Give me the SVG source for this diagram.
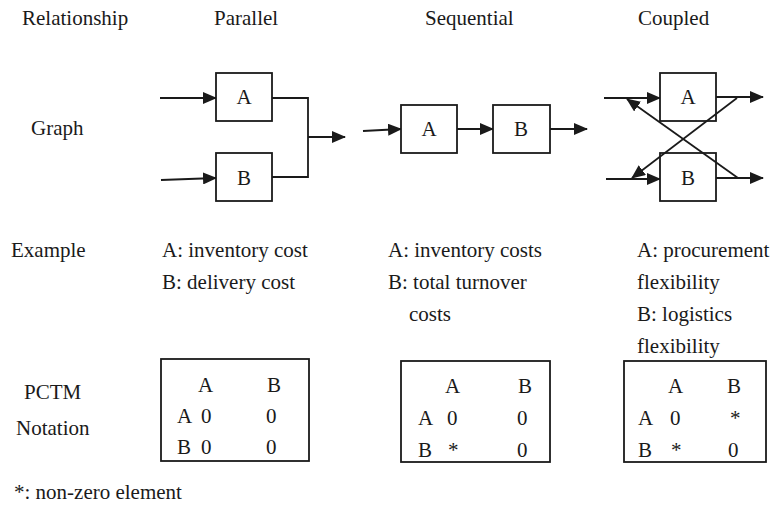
<svg xmlns="http://www.w3.org/2000/svg" width="775" height="509" viewBox="0 0 775 509">
<style>
text{font-size:21px;fill:#1a1a1a}
.box{fill:#fff;stroke:#1a1a1a;stroke-width:1.8}
.ln{fill:none;stroke:#1a1a1a;stroke-width:1.8}
.ar{fill:none;stroke:#1a1a1a;stroke-width:1.8;marker-end:url(#ah)}
.mid{text-anchor:middle}
</style>
<defs>
<marker id="ah" markerUnits="userSpaceOnUse" markerWidth="14" markerHeight="12" refX="13" refY="6" orient="auto" viewBox="0 0 14 12">
<path d="M0,0 L14,6 L0,12 z" fill="#1a1a1a"/>
</marker>
</defs>
<g font-family="Liberation Serif, DejaVu Serif, Times New Roman, serif">
<g id="headers">
<text x="22" y="25">Relationship</text>
<text x="214" y="25">Parallel</text>
<text x="425" y="25">Sequential</text>
<text x="638" y="25">Coupled</text>
<text x="31" y="135">Graph</text>
<text x="11" y="257">Example</text>
<text x="24" y="399">PCTM</text>
<text x="16" y="435">Notation</text>
<text x="14" y="499">*: non-zero element</text>
</g>
<g id="connectors">
<line class="ar" x1="160" y1="98" x2="216" y2="98"/>
<line class="ar" x1="161" y1="180" x2="216" y2="178"/>
<polyline class="ln" points="272,98 308,98 308,177 272,177"/>
<line class="ar" x1="308" y1="137" x2="345" y2="137"/>
<line class="ar" x1="363" y1="131" x2="401" y2="129"/>
<line class="ar" x1="457" y1="129" x2="493" y2="129"/>
<line class="ar" x1="550" y1="129" x2="587" y2="129"/>
<line class="ar" x1="604" y1="98" x2="660" y2="98"/>
<line class="ar" x1="606" y1="179" x2="660" y2="179"/>
<line class="ar" x1="716" y1="97" x2="763" y2="97"/>
<line class="ar" x1="716" y1="178" x2="763" y2="178"/>
</g>
<g id="par-A"><rect class="box" x="216" y="73" width="56" height="48"/><text class="mid" x="244" y="104">A</text></g>
<g id="par-B"><rect class="box" x="216" y="153" width="56" height="48"/><text class="mid" x="244" y="185">B</text></g>
<g id="seq-A"><rect class="box" x="401" y="105" width="56" height="48"/><text class="mid" x="429" y="136">A</text></g>
<g id="seq-B"><rect class="box" x="493" y="105" width="57" height="48"/><text class="mid" x="521" y="136">B</text></g>
<g id="cpl-A"><rect class="box" x="660" y="73" width="56" height="48"/><text class="mid" x="688" y="104">A</text></g>
<g id="cpl-B"><rect class="box" x="660" y="153" width="56" height="48"/><text class="mid" x="688" y="185">B</text></g>
<g id="cross-connectors">
<line class="ar" x1="738" y1="178" x2="627" y2="99"/>
<line class="ar" x1="737" y1="98" x2="632" y2="178"/>
</g>
<g id="examples">
<text x="162" y="257">A: inventory cost</text>
<text x="162" y="289">B: delivery cost</text>
<text x="388" y="257">A: inventory costs</text>
<text x="388" y="289">B: total turnover</text>
<text x="409" y="321">costs</text>
<text x="637" y="257">A: procurement</text>
<text x="637" y="289">flexibility</text>
<text x="637" y="321">B: logistics</text>
<text x="637" y="353">flexibility</text>
</g>
<g id="pctm-parallel">
<rect class="box" x="161" y="359" width="148" height="102"/>
<text x="198" y="392">A</text><text x="267" y="392">B</text>
<text x="177" y="423">A</text><text x="201" y="423">0</text><text x="266" y="423">0</text>
<text x="177" y="454">B</text><text x="201" y="454">0</text><text x="266" y="454">0</text>
</g>
<g id="pctm-sequential">
<rect class="box" x="401" y="361" width="149" height="101"/>
<text x="445" y="393">A</text><text x="518" y="393">B</text>
<text x="418" y="425">A</text><text x="447" y="425">0</text><text x="517" y="425">0</text>
<text x="418" y="457">B</text><text x="448" y="457">*</text><text x="517" y="457">0</text>
</g>
<g id="pctm-coupled">
<rect class="box" x="624" y="361" width="142" height="101"/>
<text x="668" y="393">A</text><text x="727" y="393">B</text>
<text x="638" y="425">A</text><text x="670" y="425">0</text><text x="730" y="425">*</text>
<text x="638" y="457">B</text><text x="671" y="457">*</text><text x="728" y="457">0</text>
</g>
</g>
</svg>
